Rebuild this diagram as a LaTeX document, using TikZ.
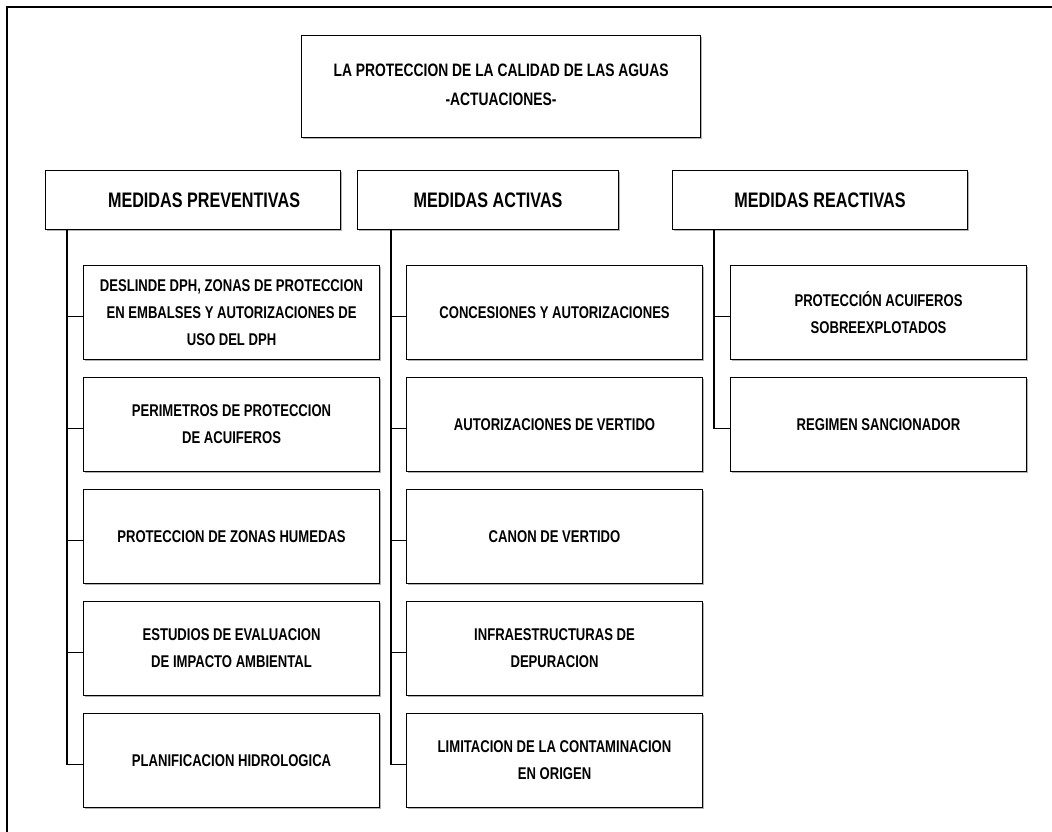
\documentclass[tikz,border=0pt]{standalone}
\usepackage{fontspec}
\setmainfont{Liberation Sans}[FakeStretch=0.77]
\usetikzlibrary{shadows}
\begin{document}
\begin{tikzpicture}[x=1pt, y=-1pt, line join=miter,
	sombra/.style={drop shadow={shadow xshift=1.2pt, shadow yshift=-1.2pt, fill=gray, opacity=0.6}},
	titulo/.style={draw, line width=1.1pt, fill=white, sombra, align=center, inner sep=0pt, anchor=north west, minimum width=399pt, minimum height=102pt, font=\fontsize{18}{29}\selectfont\bfseries},
	cabecera/.style={draw, line width=1.1pt, fill=white, sombra, inner sep=0pt, anchor=north west, minimum height=59pt, font=\fontsize{21}{25}\selectfont\bfseries},
	caja/.style={draw, line width=1.1pt, fill=white, sombra, align=center, inner sep=0pt, anchor=north west, minimum width=296pt, minimum height=94pt, font=\fontsize{17}{27}\selectfont\bfseries},
	ramal/.style={line width=1.1pt}]
	\def\ytop{265} \def\dy{112} % filas de cajas
	\useasboundingbox (0,0) rectangle (1052,832);
	\clip (0,0) rectangle (1052,832);
	\draw[line width=2pt] (7,7) rectangle (1080,860);
	% titulo y cabeceras
	\node[titulo, text depth=4pt] (tit) at (301,35) {LA PROTECCION DE LA CALIDAD DE LAS AGUAS\\-ACTUACIONES-};
	\node[cabecera, minimum width=295pt] (pv) at (45,170) {\hspace*{22pt}MEDIDAS PREVENTIVAS};
	\node[cabecera, minimum width=261pt] (ac) at (357,170) {MEDIDAS ACTIVAS};
	\node[cabecera, minimum width=295pt] (re) at (672,170) {MEDIDAS REACTIVAS};
	% cajas
	\foreach \t [count=\i] in {{DESLINDE DPH, ZONAS DE PROTECCION\\EN EMBALSES Y AUTORIZACIONES DE\\USO DEL DPH}, {PERIMETROS DE PROTECCION\\DE ACUIFEROS}, {PROTECCION DE ZONAS HUMEDAS}, {ESTUDIOS DE EVALUACION\\DE IMPACTO AMBIENTAL}, {PLANIFICACION HIDROLOGICA}}
		\node[caja] (pv\i) at (83,{\ytop+\dy*(\i-1)}) {\t};
	\foreach \t [count=\i] in {{CONCESIONES Y AUTORIZACIONES}, {AUTORIZACIONES DE VERTIDO}, {CANON DE VERTIDO}, {INFRAESTRUCTURAS DE\\DEPURACION}, {LIMITACION DE LA CONTAMINACION\\EN ORIGEN}}
		\node[caja] (ac\i) at (406,{\ytop+\dy*(\i-1)}) {\t};
	\foreach \t [count=\i] in {{PROTECCIÓN ACUIFEROS\\SOBREEXPLOTADOS}, {REGIMEN SANCIONADOR}}
		\node[caja] (re\i) at (730,{\ytop+\dy*(\i-1)}) {\t};
	% ramales
	\coordinate (pvb) at ([xshift=22pt]pv.south west);
	\coordinate (acb) at ([xshift=34pt]ac.south west);
	\coordinate (reb) at ([xshift=42pt]re.south west);
	\foreach \i in {1,...,5} {
		\coordinate (pvc\i) at ([yshift=-4pt]pv\i.west);
		\coordinate (acc\i) at ([yshift=-4pt]ac\i.west);
	}
	\foreach \i in {1,2} \coordinate (rec\i) at ([yshift=-4pt]re\i.west);
	\draw[ramal] (pvb) |- (pvc5);
	\draw[ramal] (acb) |- (acc5);
	\draw[ramal] (reb) |- (rec2);
	\foreach \i in {1,...,4} {
		\draw[ramal] (pvb |- pvc\i) -- (pvc\i);
		\draw[ramal] (acb |- acc\i) -- (acc\i);
	}
	\draw[ramal] (reb |- rec1) -- (rec1);
\end{tikzpicture}
\end{document}
